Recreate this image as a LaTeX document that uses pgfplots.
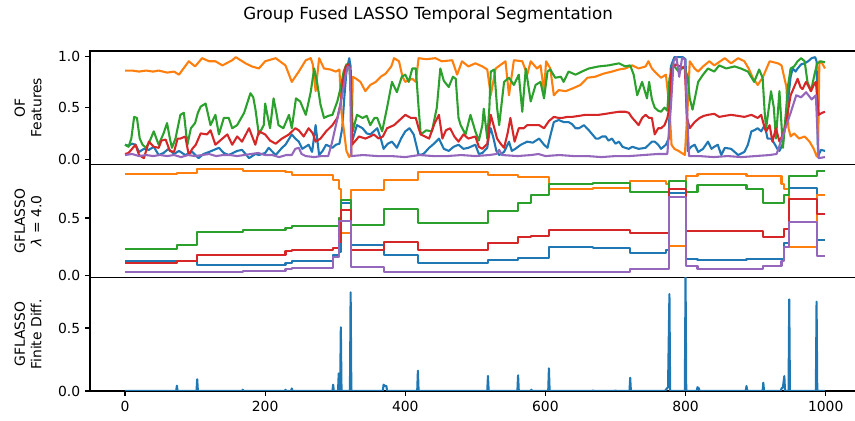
\documentclass[border=0pt]{standalone}
\usepackage{fontspec}
\setmainfont{DejaVu Sans}
\usepackage{pgfplots}
\pgfplotsset{compat=1.18}
\usepgfplotslibrary{groupplots}

\definecolor{c0}{HTML}{1F77B4}
\definecolor{c1}{HTML}{FF7F0E}
\definecolor{c2}{HTML}{2CA02C}
\definecolor{c3}{HTML}{D62728}
\definecolor{c4}{HTML}{9467BD}

\begin{document}
\begin{tikzpicture}
\begin{groupplot}[
  group style={group size=1 by 3, vertical sep=0pt, xticklabels at=edge bottom},
  scale only axis, width=554.4pt, height=81.6pt,
  xmin=-50, xmax=1049,
  xtick={0,200,...,1000},
  tick align=outside, major tick length=3.5pt,
  ytick pos=left, xtick pos=bottom,
  tick style={line width=0.8pt, black},
  axis line style={line width=0.8pt},
  /pgf/number format/assume math mode=true,
  xticklabel style={/pgf/number format/1000 sep={}},
  yticklabel style={/pgf/number format/.cd, fixed, fixed zerofill, precision=1},
  tick label style={font=\fontsize{10}{12}\selectfont},
  label style={font=\fontsize{10}{12}\selectfont, align=center},
  ylabel style={at={(axis description cs:-0.0804,0.5)}, anchor=center},
  every axis plot/.append style={line width=1.5pt, line join=round},
]
% panel 1: optical flow features
\nextgroupplot[ymin=-0.05, ymax=1.05, ytick={0,0.5,1}, xmajorticks=false,
  ylabel={OF\\Features}]
\coordinate (TL) at (rel axis cs:0,1);
\addplot[c0] coordinates {
(0,0.14) (5,0.13) (10,0.15) (15,0.14) (20,0.07) (27,0.10) (34,0.09) (41,0.12) (48,0.04) (55,0.06) (62,0.10) (70,0.05) (77,0.08) (86,0.04) (96,0.07) (105,0.01) (112,0.05) (120,0.07) (134,0.11) (141,0.06) (148,0.04) (160,0.08) (167,0.09) (177,0.01) (186,0.05) (191,0.04) (200,0.06) (205,0.11) (215,0.04) (224,0.11) (229,0.14) (238,0.24) (243,0.20) (248,0.17) (253,0.10) (262,0.14) (267,0.07) (272,0.33) (277,0.04) (282,0.08) (287,0.14) (296,0.11) (301,0.14) (306,0.15) (310,0.30) (313,0.60) (316,0.85) (320,0.98) (322,0.90) (324,0.17) (331,0.33) (339,0.30) (345,0.25) (350,0.24) (360,0.30) (365,0.20) (369,0.10) (375,0.15) (381,0.17) (388,0.11) (394,0.20) (400,0.27) (406,0.30) (412,0.24) (417,0.10) (419,0.04) (426,0.05) (434,0.11) (441,0.15) (448,0.20) (455,0.10) (462,0.08) (469,0.12) (476,0.14) (483,0.10) (490,0.11) (500,0.14) (505,0.05) (510,0.06) (517,0.11) (520,0.25) (522,0.30) (526,0.20) (530,0.08) (534,0.04) (541,0.07) (548,0.17) (552,0.08) (557,0.10) (565,0.14) (574,0.17) (582,0.16) (591,0.20) (598,0.14) (603,0.11) (606,0.20) (612,0.36) (619,0.38) (626,0.36) (633,0.36) (638,0.34) (643,0.30) (648,0.30) (655,0.33) (662,0.28) (667,0.24) (672,0.20) (676,0.20) (681,0.22) (686,0.22) (690,0.18) (695,0.20) (700,0.15) (705,0.17) (710,0.12) (714,0.11) (719,0.10) (724,0.12) (733,0.10) (743,0.11) (752,0.17) (756,0.17) (761,0.14) (765,0.10) (772,0.14) (776,0.20) (779,0.90) (784,0.99) (790,0.99) (796,0.99) (800,0.97) (803,0.08) (808,0.12) (813,0.14) (818,0.07) (825,0.10) (832,0.17) (837,0.10) (841,0.12) (846,0.14) (851,0.04) (856,0.11) (865,0.10) (870,0.07) (875,0.04) (884,0.07) (889,0.14) (894,0.27) (898,0.28) (903,0.30) (908,0.27) (913,0.33) (917,0.20) (922,0.20) (927,0.15) (931,0.10) (934,0.08) (939,0.15) (943,0.40) (946,0.55) (950,0.80) (953,0.88) (957,0.85) (960,0.88) (965,0.92) (970,0.93) (975,0.95) (980,0.98) (985,0.99) (987,0.95) (989,0.02) (993,0.09) (999,0.08)
};
\addplot[c1] coordinates {
(0,0.86) (10,0.86) (20,0.85) (30,0.86) (40,0.85) (48,0.86) (60,0.84) (70,0.85) (77,0.82) (91,0.95) (100,0.90) (110,0.98) (120,0.95) (129,0.95) (139,0.91) (153,0.96) (158,0.99) (172,0.93) (181,0.90) (191,0.88) (200,0.95) (215,0.98) (229,0.91) (238,0.75) (248,0.85) (258,0.96) (265,0.98) (268,0.92) (272,0.66) (277,0.98) (284,0.88) (293,0.87) (301,0.85) (306,0.87) (309,0.45) (312,0.30) (316,0.08) (320,0.02) (323,0.05) (325,0.80) (330,0.78) (336,0.75) (343,0.66) (350,0.72) (358,0.75) (365,0.80) (372,0.83) (380,0.90) (384,0.98) (391,0.95) (396,0.80) (400,0.75) (410,0.78) (415,0.75) (419,0.98) (430,0.97) (443,0.98) (452,0.95) (467,0.96) (474,0.82) (481,0.95) (490,0.90) (500,0.93) (510,0.90) (517,0.87) (522,0.62) (529,0.88) (543,0.95) (548,0.62) (555,0.96) (567,0.95) (574,0.82) (579,0.95) (588,0.88) (593,0.91) (598,0.66) (601,0.95) (607,0.88) (612,0.62) (619,0.67) (629,0.66) (640,0.69) (650,0.72) (660,0.79) (671,0.80) (683,0.83) (695,0.85) (705,0.87) (714,0.88) (724,0.91) (733,0.88) (743,0.90) (747,0.95) (752,0.88) (756,0.85) (765,0.79) (772,0.82) (777,0.50) (780,0.14) (784,0.10) (790,0.08) (799,0.04) (803,0.50) (806,0.95) (813,0.88) (818,0.85) (825,0.90) (834,0.95) (841,0.91) (856,0.98) (865,0.93) (875,0.98) (884,0.95) (890,0.88) (896,0.79) (903,0.72) (910,0.79) (920,0.95) (932,0.93) (937,0.91) (941,0.79) (944,0.70) (947,0.30) (950,0.22) (955,0.25) (962,0.20) (970,0.22) (977,0.17) (983,0.10) (987,0.03) (989,0.02) (991,0.95) (995,0.93) (999,0.88)
};
\addplot[c2] coordinates {
(0,0.14) (5,0.12) (9,0.20) (13,0.41) (17,0.40) (21,0.20) (25,0.14) (30,0.11) (35,0.17) (41,0.27) (48,0.14) (55,0.25) (60,0.35) (64,0.20) (67,0.11) (72,0.20) (79,0.43) (84,0.45) (89,0.14) (94,0.30) (100,0.35) (104,0.45) (108,0.51) (115,0.54) (122,0.33) (129,0.43) (134,0.24) (141,0.40) (148,0.40) (153,0.30) (160,0.33) (170,0.45) (179,0.64) (183,0.60) (186,0.49) (191,0.24) (198,0.33) (200,0.54) (204,0.40) (207,0.30) (212,0.59) (216,0.45) (219,0.33) (226,0.30) (234,0.43) (238,0.30) (244,0.59) (250,0.56) (258,0.43) (265,0.65) (270,0.88) (274,0.75) (279,0.53) (284,0.40) (290,0.42) (296,0.43) (303,0.56) (308,0.70) (312,0.85) (316,0.92) (320,0.90) (323,0.60) (325,0.27) (331,0.43) (339,0.40) (345,0.42) (350,0.33) (356,0.40) (360,0.40) (367,0.27) (374,0.50) (381,0.75) (388,0.65) (395,0.80) (400,0.82) (405,0.75) (410,0.88) (415,0.88) (419,0.50) (422,0.24) (430,0.28) (438,0.27) (445,0.50) (450,0.88) (455,0.76) (462,0.70) (468,0.80) (472,0.78) (476,0.40) (479,0.33) (486,0.24) (493,0.43) (500,0.27) (505,0.18) (510,0.33) (512,0.49) (517,0.20) (520,0.50) (522,0.85) (527,0.87) (531,0.50) (534,0.33) (541,0.75) (548,0.79) (555,0.72) (562,0.82) (567,0.46) (572,0.88) (579,0.56) (586,0.72) (593,0.75) (598,0.59) (603,0.85) (607,0.87) (614,0.79) (622,0.80) (626,0.75) (633,0.85) (643,0.82) (652,0.85) (662,0.88) (676,0.90) (690,0.91) (705,0.93) (714,0.90) (721,0.91) (726,0.82) (731,0.62) (738,0.75) (745,0.59) (748,0.75) (752,0.58) (756,0.50) (761,0.47) (765,0.46) (770,0.50) (774,0.47) (777,0.78) (782,0.92) (790,0.85) (798,0.90) (803,0.80) (806,0.59) (810,0.48) (818,0.75) (825,0.82) (832,0.88) (841,0.85) (848,0.91) (858,0.88) (870,0.90) (879,0.88) (889,0.85) (898,0.75) (905,0.87) (910,0.79) (913,0.45) (915,0.30) (922,0.66) (926,0.50) (929,0.20) (934,0.66) (939,0.11) (943,0.43) (946,0.70) (950,0.88) (955,0.90) (960,0.95) (965,0.98) (970,0.95) (974,0.75) (979,0.66) (984,0.82) (988,0.93) (993,0.95) (999,0.94)
};
\addplot[c3] coordinates {
(0,0.05) (5,0.06) (10,0.10) (15,0.14) (20,0.04) (27,0.01) (34,0.17) (41,0.12) (48,0.11) (52,0.18) (58,0.19) (64,0.08) (70,0.07) (75,0.20) (79,0.20) (86,0.22) (91,0.04) (96,0.10) (101,0.14) (108,0.25) (117,0.24) (122,0.28) (129,0.14) (139,0.20) (146,0.24) (153,0.14) (160,0.22) (167,0.17) (177,0.30) (186,0.14) (191,0.27) (200,0.24) (207,0.18) (215,0.15) (224,0.20) (234,0.24) (243,0.30) (248,0.28) (255,0.22) (262,0.30) (268,0.25) (272,0.17) (279,0.20) (287,0.27) (296,0.33) (303,0.40) (308,0.55) (311,0.75) (315,0.90) (319,0.92) (322,0.85) (324,0.14) (334,0.22) (343,0.20) (350,0.22) (355,0.24) (362,0.20) (368,0.22) (374,0.30) (384,0.33) (392,0.38) (400,0.43) (408,0.40) (415,0.40) (419,0.30) (422,0.24) (434,0.20) (442,0.35) (448,0.43) (453,0.20) (458,0.28) (464,0.30) (470,0.22) (476,0.17) (483,0.24) (490,0.20) (500,0.22) (505,0.12) (510,0.10) (517,0.15) (522,0.43) (526,0.33) (531,0.20) (536,0.15) (541,0.11) (546,0.25) (550,0.40) (556,0.17) (562,0.30) (569,0.30) (574,0.33) (583,0.33) (591,0.33) (598,0.30) (605,0.37) (612,0.41) (619,0.40) (624,0.40) (631,0.41) (638,0.41) (648,0.42) (657,0.43) (667,0.43) (676,0.43) (686,0.44) (695,0.45) (705,0.46) (714,0.46) (719,0.45) (724,0.40) (728,0.37) (733,0.33) (738,0.40) (743,0.43) (748,0.40) (752,0.40) (756,0.24) (761,0.30) (765,0.30) (770,0.33) (774,0.40) (777,0.50) (780,0.88) (786,0.92) (792,0.90) (799,0.88) (802,0.40) (806,0.30) (813,0.36) (820,0.40) (826,0.42) (832,0.43) (841,0.44) (848,0.41) (856,0.42) (865,0.43) (875,0.42) (884,0.41) (894,0.43) (903,0.40) (908,0.43) (913,0.30) (915,0.27) (920,0.33) (924,0.17) (929,0.30) (934,0.17) (939,0.24) (943,0.33) (947,0.50) (950,0.62) (955,0.70) (960,0.78) (964,0.70) (967,0.68) (972,0.75) (976,0.70) (979,0.66) (983,0.72) (986,0.75) (988,0.60) (990,0.43) (995,0.45) (999,0.46)
};
\addplot[c4] coordinates {
(0,0.04) (10,0.05) (20,0.03) (30,0.04) (40,0.03) (50,0.04) (60,0.03) (70,0.04) (80,0.02) (90,0.04) (100,0.03) (110,0.04) (120,0.05) (130,0.03) (140,0.04) (150,0.04) (160,0.03) (170,0.04) (180,0.05) (190,0.06) (200,0.04) (210,0.04) (220,0.02) (230,0.04) (238,0.04) (243,0.10) (248,0.11) (252,0.05) (258,0.03) (270,0.02) (280,0.03) (290,0.03) (295,0.15) (300,0.30) (305,0.45) (310,0.62) (315,0.82) (318,0.90) (321,0.88) (323,0.03) (340,0.04) (360,0.03) (380,0.03) (400,0.02) (420,0.04) (440,0.03) (460,0.03) (480,0.04) (500,0.03) (520,0.04) (530,0.05) (534,0.09) (538,0.04) (560,0.03) (580,0.04) (590,0.05) (600,0.03) (620,0.04) (640,0.03) (660,0.03) (680,0.02) (700,0.03) (720,0.03) (740,0.04) (760,0.05) (774,0.05) (779,0.50) (783,0.95) (787,0.99) (791,0.80) (795,0.98) (799,0.97) (802,0.50) (805,0.03) (820,0.03) (840,0.02) (860,0.03) (880,0.02) (900,0.03) (920,0.04) (930,0.05) (940,0.25) (950,0.45) (958,0.62) (965,0.60) (972,0.65) (980,0.58) (986,0.62) (988,0.30) (990,0.01) (999,0.02)
};
% panel 2: group fused lasso fit
\nextgroupplot[ymin=-0.022, ymax=0.97, ytick={0,0.5}, xmajorticks=false,
  ylabel={GFLASSO\\\textit{λ} = 4.0}]
\addplot[c0, const plot] coordinates {
(0,0.125) (103,0.085) (168,0.09) (229,0.105) (238,0.12) (297,0.175) (305,0.2) (308,0.634) (322,0.263) (369,0.175) (418,0.108) (518,0.13) (561,0.152) (605,0.248) (668,0.235) (721,0.19) (772,0.22) (777,0.717) (800,0.14) (817,0.13) (887,0.14) (941,0.28) (948,0.76) (987,0.307) (999,0.307)
};
\addplot[c1, const plot] coordinates {
(0,0.886) (74,0.897) (103,0.927) (168,0.915) (229,0.90) (238,0.88) (297,0.83) (305,0.75) (308,0.37) (322,0.745) (369,0.83) (418,0.90) (518,0.877) (561,0.857) (605,0.754) (668,0.76) (721,0.82) (772,0.80) (777,0.254) (800,0.87) (817,0.886) (887,0.865) (937,0.80) (941,0.75) (948,0.243) (987,0.70) (999,0.70)
};
\addplot[c2, const plot] coordinates {
(0,0.225) (74,0.263) (103,0.38) (168,0.395) (229,0.41) (238,0.43) (305,0.50) (308,0.658) (322,0.44) (369,0.58) (418,0.46) (518,0.564) (561,0.63) (580,0.70) (605,0.80) (668,0.81) (721,0.725) (777,0.825) (800,0.725) (817,0.79) (887,0.754) (911,0.63) (941,0.70) (948,0.868) (987,0.91) (999,0.91)
};
\addplot[c3, const plot] coordinates {
(0,0.108) (74,0.125) (103,0.175) (168,0.18) (229,0.21) (238,0.22) (297,0.24) (305,0.29) (308,0.57) (322,0.22) (369,0.29) (418,0.22) (518,0.278) (561,0.33) (580,0.34) (605,0.395) (721,0.37) (777,0.754) (800,0.386) (911,0.336) (941,0.40) (948,0.664) (987,0.535) (999,0.535)
};
\addplot[c4, const plot] coordinates {
(0,0.03) (168,0.035) (229,0.05) (238,0.064) (297,0.16) (305,0.476) (322,0.07) (369,0.03) (721,0.055) (777,0.68) (800,0.08) (817,0.05) (911,0.08) (937,0.12) (941,0.25) (948,0.465) (987,0.167) (999,0.167)
};
% panel 3: finite differences of the fit
\nextgroupplot[ymin=0, ymax=0.9, ytick={0,0.5},
  ylabel={GFLASSO\\Finite Diff.}]
\coordinate (BL) at (rel axis cs:0,0);
\addplot[c0] coordinates {
(0,0) (73,0) (74,0.042) (75,0) (102,0) (103,0.093) (104,0) (167,0) (168,0.01) (169,0) (228,0) (229,0.01) (230,0) (237,0) (238,0.02) (239,0) (296,0) (297,0.05) (298,0) (304,0) (305,0.14) (306,0.06) (307,0) (308,0.506) (309,0) (321,0) (322,0.783) (323,0) (368,0) (369,0.05) (371,0.04) (373,0.04) (374,0) (417,0) (418,0.161) (419,0) (517,0) (518,0.12) (519,0) (560,0) (561,0.125) (562,0) (579,0) (580,0.01) (581,0) (604,0) (605,0.18) (606,0) (667,0) (668,0.005) (669,0) (699,0) (700,0.005) (701,0) (720,0) (721,0.105) (722,0) (771,0) (772,0.01) (775,0.03) (777,0.77) (778,0) (799,0) (800,0.92) (801,0) (816,0) (817,0.03) (819,0.02) (820,0) (886,0) (887,0.04) (888,0) (910,0) (911,0.066) (912,0) (936,0) (937,0.02) (939,0.03) (941,0.118) (942,0) (947,0) (948,0.728) (949,0) (986,0) (987,0.709) (988,0) (999,0)
};
\end{groupplot}
\node[font=\fontsize{12}{14.4}\selectfont] at ([xshift=243.4pt,yshift=25.9pt]TL) {Group Fused LASSO Temporal Segmentation};
\pgfresetboundingbox
\path[use as bounding box] ([xshift=-64.8pt,yshift=36.7pt]TL) rectangle ([xshift=550.8pt,yshift=-21.6pt]BL);
\end{tikzpicture}
\end{document}
